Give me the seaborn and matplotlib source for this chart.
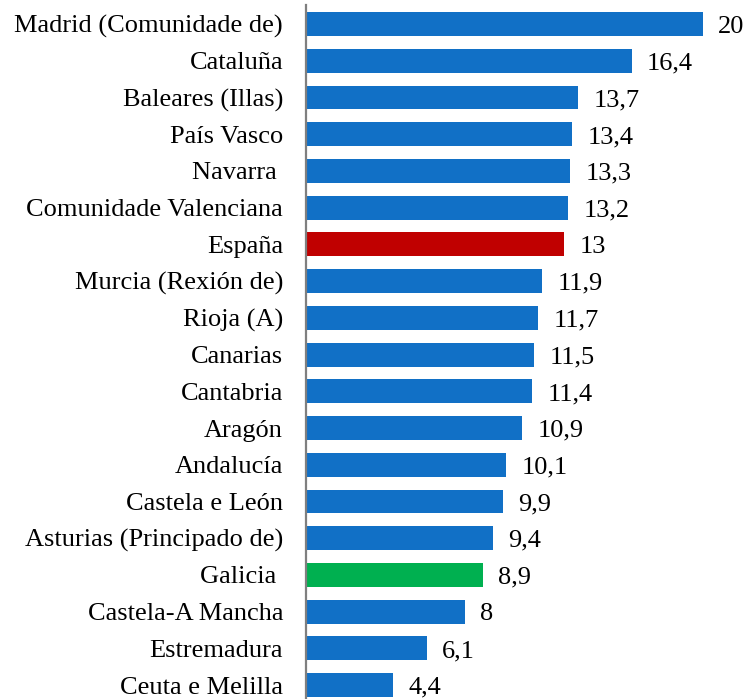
import matplotlib
matplotlib.use("Agg")
import matplotlib.pyplot as plt
import seaborn as sns
import pandas as pd

regions = ["Madrid (Comunidade de)", "Cataluña", "Baleares (Illas)", "País Vasco",
           "Navarra ", "Comunidade Valenciana", "España", "Murcia (Rexión de)",
           "Rioja (A)", "Canarias", "Cantabria", "Aragón", "Andalucía",
           "Castela e León", "Asturias (Principado de)", "Galicia ",
           "Castela-A Mancha", "Estremadura", "Ceuta e Melilla"]
values = [20, 16.4, 13.7, 13.4, 13.3, 13.2, 13, 11.9, 11.7, 11.5, 11.4, 10.9,
          10.1, 9.9, 9.4, 8.9, 8, 6.1, 4.4]

blue = "#1170C6"
colors = {r: blue for r in regions}
colors["España"] = "#C00000"
colors["Galicia "] = "#00B050"

df = pd.DataFrame({"region": regions, "value": values})

sns.set_theme(style="white")
plt.rcParams['font.family'] = ['Liberation Serif', 'DejaVu Serif']

fig = plt.figure(figsize=(7.46, 6.99), dpi=100)
ax = fig.add_axes([306 / 746, 0, 1 - 306 / 746, 694 / 699])

sns.barplot(data=df, x="value", y="region", hue="region", palette=colors,
            order=regions, width=0.65, legend=False, ax=ax, edgecolor="none",
            saturation=1)

for c in ax.containers:
    labels = [f"{v:g}".replace(".", ",") for v in c.datavalues]
    texts = ax.bar_label(c, labels=labels, padding=11, fontsize=19, color="black")
    for t in texts:
        t.set_va("center")
        t.set_position((t.get_position()[0], t.get_position()[1] - 2))

ax.set_xlim(0, 440 / 19.85)
ax.set_ylim(18.38, -0.52)
ax.set_xlabel("")
ax.set_ylabel("")
ax.set_xticks([])
ax.tick_params(axis="y", length=0, pad=16.5, labelsize=19)
for lbl in ax.get_yticklabels():
    lbl.set_color("black")
for s in ["top", "right", "bottom"]:
    ax.spines[s].set_visible(False)
ax.spines["left"].set_color("#7F7F7F")
ax.spines["left"].set_linewidth(1.6)

fig.savefig("out.png", dpi=100)
